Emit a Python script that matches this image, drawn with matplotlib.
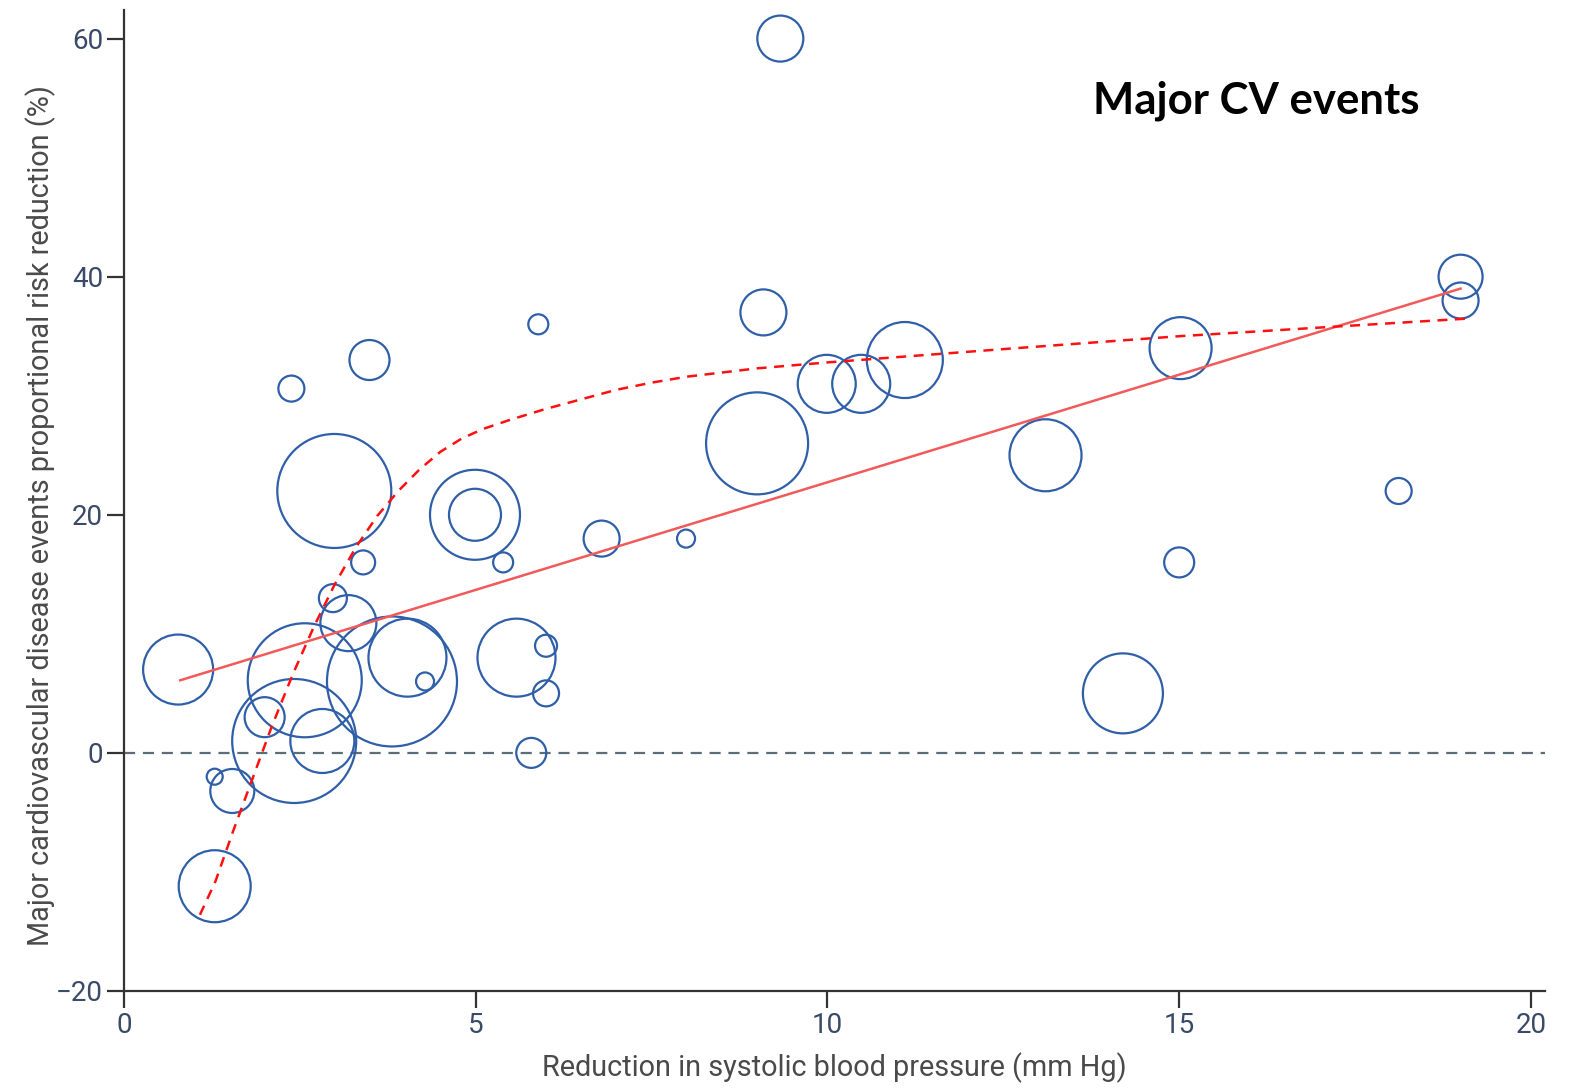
import numpy as np
import matplotlib.pyplot as plt

# trial bubbles: bp reduction (mm Hg), risk reduction (%), bubble radius (relative weight)
bp_drop = [9.33, 9.09, 5.89, 3.49, 2.38, 2.99, 4.99, 4.99, 3.40, 5.39,
           6.79, 7.99, 9.00, 9.99, 10.48, 11.10, 13.10, 15.02, 19.00, 19.00,
           18.12, 15.00, 14.20, 0.77, 2.97, 3.19, 2.57, 2.42, 2.82, 2.00,
           3.81, 4.03, 4.28, 1.54, 1.29, 1.29, 5.58, 6.00, 6.00, 5.79]
risk_drop = [60, 37, 36, 33, 30.6, 22, 20, 20, 16, 16,
             18, 18, 26, 31, 31, 33, 25, 34, 40, 38,
             22, 16, 5, 7, 13, 10.9, 6.1, 1, 1, 3,
             6, 8, 6, -3.2, -2, -11.2, 8, 9, 5, 0]
weight = [23, 23, 10, 20, 13, 57, 45, 26, 12, 10,
          18, 9, 51, 29, 29, 38, 36, 31, 22, 18,
          13, 15, 40, 35, 14, 28, 57, 62, 32, 20,
          65, 39, 9, 22, 8, 36, 39, 11, 13, 15]

# linear meta-regression line
fit_x = [0.8, 19.0]
fit_y = [6.1, 39.0]

# curved fit
curve_x = [1.08, 1.3, 1.55, 1.8, 2.1, 2.4, 2.7, 3.0, 3.3, 3.6, 3.9, 4.2,
           4.5, 4.8, 5.1, 5.5, 6.0, 6.5, 7.0, 7.5, 8.0, 9.0, 10.0, 12.46,
           15.0, 17.2, 19.15]
curve_y = [-13.6, -10.8, -6.6, -2.6, 2.2, 6.6, 10.6, 14.2, 17.3, 19.9, 22.0,
           23.8, 25.3, 26.4, 27.2, 28.0, 28.9, 29.7, 30.5, 31.1, 31.6, 32.3,
           32.8, 33.9, 35.0, 35.8, 36.5]

x_ticks = [0, 5, 10, 15, 20]
y_ticks = [-20, 0, 20, 40, 60]


def main():
    dpi = 100
    fig = plt.figure(figsize=(15.73, 10.89), dpi=dpi)
    ax = fig.add_axes([0.0788, 0.09, 0.9034, 0.9008])

    px2pt = 72.0 / dpi
    sizes = [(2 * w * px2pt) ** 2 for w in weight]
    ax.scatter(bp_drop, risk_drop, s=sizes, facecolors="none",
               edgecolors="#2f5fa8", linewidths=1.6, zorder=3)

    ax.axhline(0, color="#5b6e78", lw=1.6, ls=(0, (5, 3.5)), zorder=1)
    ax.plot(fit_x, fit_y, color="#f25a5a", lw=1.8, zorder=4)
    ax.plot(curve_x, curve_y, color="#ff1010", lw=1.8, ls=(0, (4, 3)), zorder=4)

    ax.set_xlim(0, 20.2)
    ax.set_ylim(-20, 62.4)
    ax.set_xticks(x_ticks)
    ax.set_yticks(y_ticks)
    ax.set_yticklabels(["\u221220", "0", "20", "40", "60"])

    for side in ["top", "right"]:
        ax.spines[side].set_visible(False)
    for side in ["left", "bottom"]:
        ax.spines[side].set_linewidth(1.6)
        ax.spines[side].set_color("#333333")

    font = "Roboto"
    ax.tick_params(length=12, width=1.6, color="#333333", labelsize=20,
                   labelcolor="#3b4a68", pad=3)
    for lab in ax.get_xticklabels() + ax.get_yticklabels():
        lab.set_family(font)

    ax.set_xlabel("Reduction in systolic blood pressure (mm Hg)", fontsize=20.8,
                  color="#4a4a4a", family=font, labelpad=10)
    ax.set_ylabel("Major cardiovascular disease events proportional risk reduction (%)",
                  fontsize=20.8, color="#4a4a4a", family=font)
    ax.yaxis.set_label_coords(-0.048, 0.485)

    ax.text(0.797, 0.907, "Major CV events", transform=ax.transAxes,
            fontsize=31.5, fontweight="bold", ha="center", va="center",
            family=["Lato", "DejaVu Sans"])

    fig.savefig("out.png", dpi=dpi)


if __name__ == "__main__":
    main()
